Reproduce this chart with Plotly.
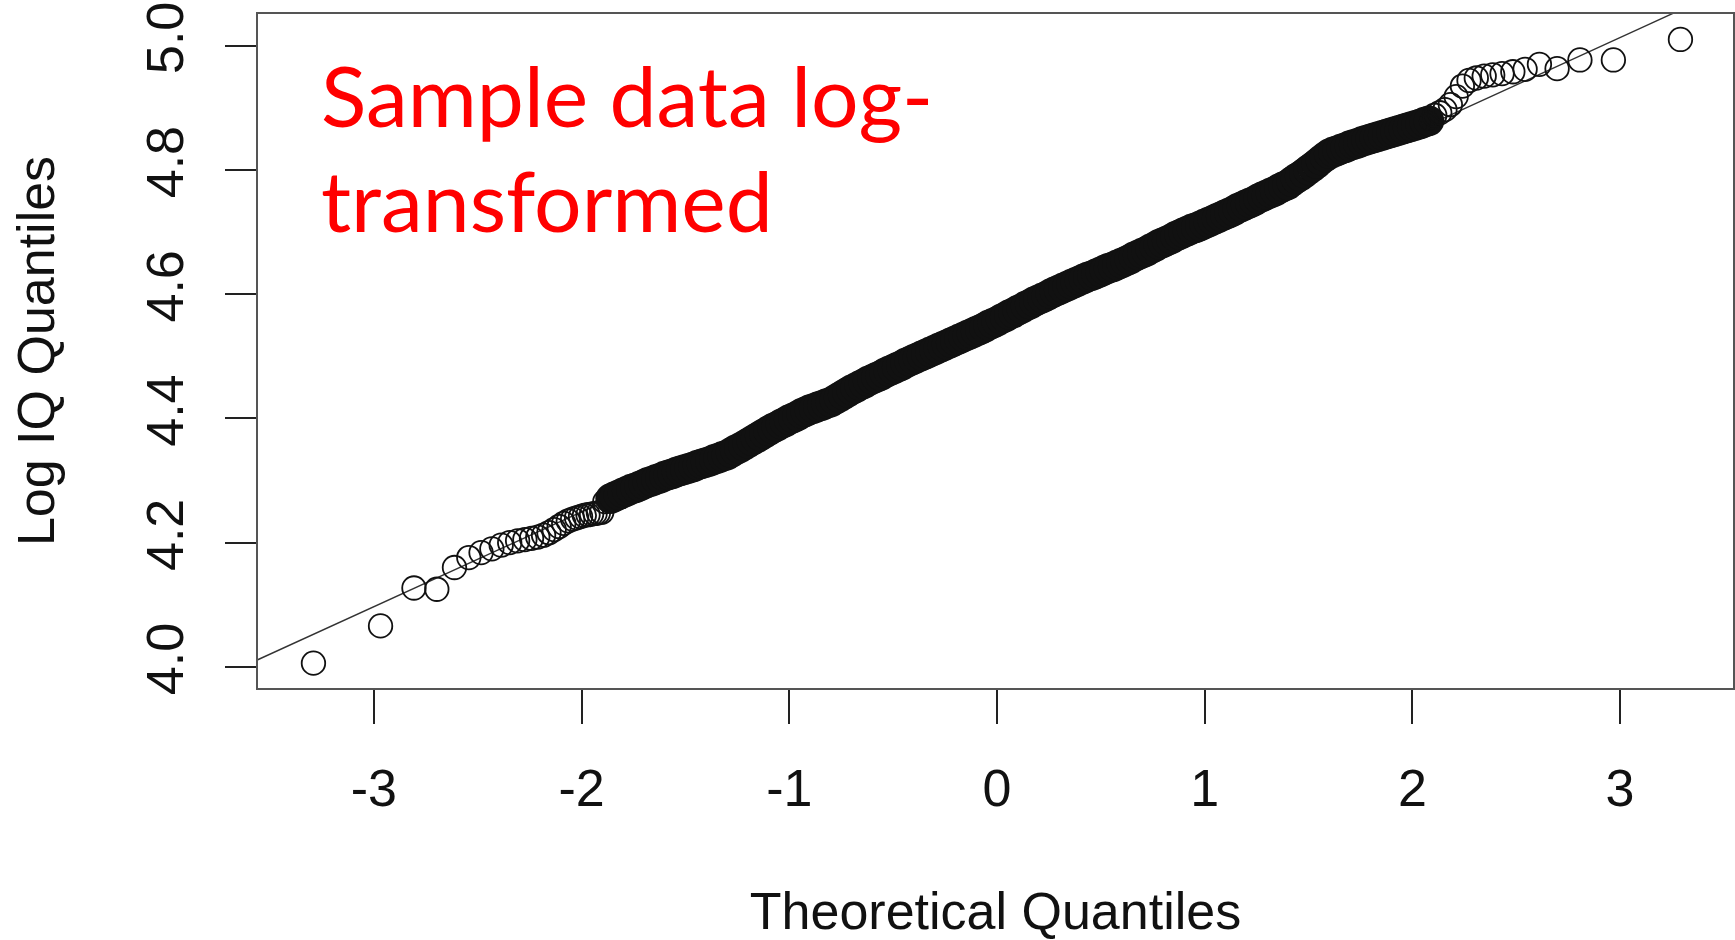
import plotly.graph_objects as go

# Normal Q-Q plot of log-transformed IQ scores (n = 1000)

# Sparse lower tail: theoretical quantile / sample quantile
lower_theo = [-3.291, -2.968, -2.807, -2.697, -2.612, -2.543, -2.484, -2.432,
              -2.387, -2.346, -2.308, -2.273, -2.241, -2.211, -2.183, -2.157,
              -2.132, -2.108, -2.086, -2.064, -2.043, -2.024, -2.005, -1.987,
              -1.969, -1.952, -1.935, -1.919, -1.903, -1.888]
lower_sample = [4.006, 4.066, 4.127, 4.125, 4.160, 4.176, 4.184, 4.190,
                4.196, 4.200, 4.203, 4.205, 4.207, 4.209, 4.212, 4.216,
                4.221, 4.226, 4.231, 4.235, 4.238, 4.240, 4.242, 4.244,
                4.245, 4.246, 4.247, 4.248, 4.249, 4.266]

# Dense central body
body_theo = [
    -1.86, -1.84, -1.82, -1.80, -1.78, -1.76, -1.74, -1.72, -1.70,
    -1.68, -1.66, -1.64, -1.62, -1.60, -1.58, -1.56, -1.54, -1.52, -1.50,
    -1.48, -1.46, -1.44, -1.42, -1.40, -1.38, -1.36, -1.34, -1.32, -1.30,
    -1.28, -1.26, -1.24, -1.22, -1.20, -1.18, -1.16, -1.14, -1.12, -1.10,
    -1.08, -1.06, -1.04, -1.02, -1.00, -0.98, -0.96, -0.94, -0.92, -0.90,
    -0.88, -0.86, -0.84, -0.82, -0.80, -0.78, -0.76, -0.74, -0.72, -0.70,
    -0.68, -0.66, -0.64, -0.62, -0.60, -0.58, -0.56, -0.54, -0.52, -0.50,
    -0.48, -0.46, -0.44, -0.42, -0.40, -0.38, -0.36, -0.34, -0.32, -0.30,
    -0.28, -0.26, -0.24, -0.22, -0.20, -0.18, -0.16, -0.14, -0.12, -0.10,
    -0.08, -0.06, -0.04, -0.02, 0.00, 0.02, 0.04, 0.06, 0.08, 0.10,
    0.12, 0.14, 0.16, 0.18, 0.20, 0.22, 0.24, 0.26, 0.28, 0.30,
    0.32, 0.34, 0.36, 0.38, 0.40, 0.42, 0.44, 0.46, 0.48, 0.50,
    0.52, 0.54, 0.56, 0.58, 0.60, 0.62, 0.64, 0.66, 0.68, 0.70,
    0.72, 0.74, 0.76, 0.78, 0.80, 0.82, 0.84, 0.86, 0.88, 0.90,
    0.92, 0.94, 0.96, 0.98, 1.00, 1.02, 1.04, 1.06, 1.08, 1.10,
    1.12, 1.14, 1.16, 1.18, 1.20, 1.22, 1.24, 1.26, 1.28, 1.30,
    1.32, 1.34, 1.36, 1.38, 1.40, 1.42, 1.44, 1.46, 1.48, 1.50,
    1.52, 1.54, 1.56, 1.58, 1.60, 1.62, 1.64, 1.66, 1.68, 1.70,
    1.72, 1.74, 1.76, 1.78, 1.80, 1.82, 1.84, 1.86, 1.88, 1.90,
    1.92, 1.94, 1.96, 1.98, 2.00, 2.02, 2.04, 2.06, 2.08,
]
body_sample = [
    4.271, 4.274, 4.277, 4.280, 4.283, 4.286, 4.288, 4.291, 4.294,
    4.297, 4.299, 4.302, 4.304, 4.307, 4.309, 4.311, 4.314, 4.316, 4.318,
    4.320, 4.322, 4.325, 4.327, 4.329, 4.331, 4.334, 4.336, 4.339, 4.341,
    4.345, 4.349, 4.352, 4.356, 4.360, 4.364, 4.368, 4.372, 4.376, 4.380,
    4.384, 4.387, 4.391, 4.394, 4.398, 4.401, 4.404, 4.408, 4.411, 4.414,
    4.416, 4.419, 4.421, 4.424, 4.426, 4.430, 4.434, 4.438, 4.442, 4.446,
    4.449, 4.453, 4.456, 4.460, 4.463, 4.466, 4.469, 4.473, 4.476, 4.479,
    4.482, 4.485, 4.489, 4.492, 4.495, 4.498, 4.501, 4.504, 4.507, 4.510,
    4.513, 4.516, 4.519, 4.522, 4.525, 4.528, 4.531, 4.534, 4.537, 4.540,
    4.543, 4.546, 4.550, 4.553, 4.556, 4.560, 4.563, 4.567, 4.570, 4.574,
    4.577, 4.581, 4.584, 4.588, 4.591, 4.594, 4.597, 4.601, 4.604, 4.607,
    4.610, 4.613, 4.616, 4.619, 4.622, 4.625, 4.628, 4.630, 4.633, 4.636,
    4.639, 4.642, 4.644, 4.647, 4.650, 4.653, 4.656, 4.660, 4.663, 4.666,
    4.669, 4.673, 4.676, 4.680, 4.683, 4.686, 4.689, 4.693, 4.696, 4.699,
    4.702, 4.705, 4.707, 4.710, 4.713, 4.716, 4.719, 4.722, 4.725, 4.728,
    4.731, 4.734, 4.738, 4.741, 4.744, 4.747, 4.750, 4.754, 4.757, 4.760,
    4.763, 4.766, 4.770, 4.773, 4.776, 4.781, 4.786, 4.790, 4.795, 4.800,
    4.805, 4.810, 4.816, 4.821, 4.826, 4.829, 4.831, 4.834, 4.836, 4.839,
    4.841, 4.843, 4.846, 4.848, 4.850, 4.852, 4.854, 4.856, 4.858, 4.860,
    4.862, 4.864, 4.866, 4.868, 4.870, 4.872, 4.874, 4.877, 4.879,
]

# Sparse upper tail
upper_theo = [2.108, 2.132, 2.157, 2.183, 2.211, 2.241, 2.273, 2.308,
              2.346, 2.387, 2.432, 2.484, 2.543, 2.612, 2.697, 2.807,
              2.968, 3.291]
upper_sample = [4.888, 4.892, 4.897, 4.905, 4.918, 4.935, 4.944, 4.948,
                4.951, 4.953, 4.955, 4.958, 4.962, 4.970, 4.963, 4.977,
                4.977, 5.010]

# Reference line through the quartiles
qq_intercept = 4.555
qq_slope = 0.1527

x_ticks = [-3, -2, -1, 0, 1, 2, 3]
y_ticks = [4.0, 4.2, 4.4, 4.6, 4.8, 5.0]
x_range = [-3.558, 3.544]
y_range = [3.966, 5.051]

axis_font = dict(family="Liberation Sans, Arial, sans-serif", size=52, color="#111111")

fig = go.Figure()

line_x = [x_range[0] - 0.1, x_range[1] + 0.1]
fig.add_trace(go.Scatter(
    x=line_x, y=[qq_intercept + qq_slope * v for v in line_x],
    mode="lines", line=dict(color="#333333", width=1.4),
    hoverinfo="skip", showlegend=False,
))

ring = dict(symbol="circle-open", color="#111111")
fig.add_trace(go.Scatter(
    x=lower_theo, y=lower_sample, mode="markers",
    marker=dict(**ring, size=23.5, line=dict(width=1.8)), showlegend=False,
))
fig.add_trace(go.Scatter(
    x=body_theo, y=body_sample, mode="markers",
    marker=dict(**ring, size=25.5, line=dict(width=5.2)), showlegend=False,
))
fig.add_trace(go.Scatter(
    x=upper_theo, y=upper_sample, mode="markers",
    marker=dict(**ring, size=23.5, line=dict(width=1.8)), showlegend=False,
))

fig.update_xaxes(
    range=x_range, tickvals=x_ticks, ticktext=[str(v) for v in x_ticks],
    ticks="outside", ticklen=34, tickwidth=1.5, tickcolor="#222222",
    ticklabelstandoff=20,
    showline=True, mirror=True, linecolor="#555555", linewidth=2,
    showgrid=False, zeroline=False, tickfont=axis_font,
    title=dict(text="Theoretical Quantiles", font=axis_font, standoff=80),
)
fig.update_yaxes(
    range=y_range, tickvals=y_ticks, ticktext=[f"{v:.1f}" for v in y_ticks],
    tickangle=-90,
    ticks="outside", ticklen=31, tickwidth=1.5, tickcolor="#222222",
    ticklabelstandoff=21,
    showline=True, mirror=True, linecolor="#555555", linewidth=2,
    showgrid=False, zeroline=False, tickfont=axis_font,
    title=dict(text="Log IQ Quantiles", font=axis_font, standoff=65),
)

red_font = dict(family="Lato, Carlito, Calibri, sans-serif", size=84, color="#FF0000")
fig.add_annotation(text="Sample data log-", xref="paper", yref="paper",
                   x=0.0414, y=0.8803, xanchor="left", yanchor="middle",
                   showarrow=False, font=red_font)
fig.add_annotation(text="transformed", xref="paper", yref="paper",
                   x=0.0414, y=0.7245, xanchor="left", yanchor="middle",
                   showarrow=False, font=red_font)

fig.update_layout(
    width=1735, height=940,
    margin=dict(l=258, r=2, t=14, b=252, autoexpand=False),
    paper_bgcolor="white", plot_bgcolor="white",
    showlegend=False,
)

fig.write_html("out.html")
